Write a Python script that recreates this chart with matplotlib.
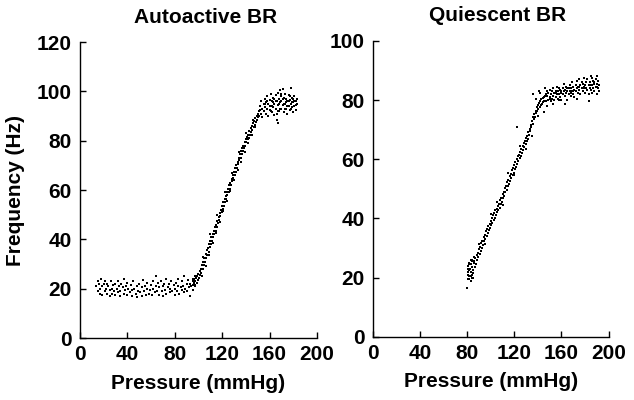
import matplotlib
matplotlib.use("Agg")
from matplotlib import pyplot as plt

plt.rcParams['font.family'] = ['Liberation Sans', 'DejaVu Sans']
plt.rcParams['font.weight'] = 'bold'

# Autoactive BR, points (pressure mmHg, frequency Hz)
auto_flat = [(14, 21), (15, 23), (15, 19), (16, 22), (17, 20), (17, 18), (18, 24), (19, 21),
             (19, 17.5), (20, 22), (21, 19), (21, 23), (22, 20), (23, 18), (23, 22), (24, 21),
             (25, 17), (25, 19.5), (26, 23), (27, 20), (27, 18), (28, 21.5), (29, 19), (30, 22),
             (30, 17.5), (31, 20), (32, 18.5), (32, 23), (33, 21), (34, 17), (34, 19), (35, 22),
             (36, 20.5), (37, 18), (37, 24), (38, 19.5), (39, 21), (40, 17.5), (40, 22.5), (41, 20),
             (42, 18.5), (43, 21.5), (44, 17), (44, 19.5), (45, 23), (46, 20), (47, 18), (48, 21),
             (48, 16.5), (49, 19), (50, 22), (51, 18.5), (52, 20.5), (52, 17), (53, 23.5), (54, 19),
             (55, 21), (56, 17.5), (57, 20), (57, 22.5), (58, 18), (59, 19.5), (60, 21.5), (61, 17.5),
             (62, 20), (62, 23), (63, 18.5), (64, 25), (64, 21), (65, 19), (66, 22.5), (67, 17.5),
             (67, 20.5), (68, 23), (69, 19), (70, 21), (70, 17), (71, 22), (72, 19.5), (73, 18),
             (73, 24), (74, 20.5), (75, 22), (76, 18.5), (76, 20), (77, 23), (78, 19), (79, 21.5),
             (80, 17.5), (80, 20), (81, 22.5), (82, 19), (83, 21), (83, 24), (84, 18), (85, 20.5),
             (86, 23), (86, 19.5), (87, 21), (88, 25), (88, 18.5), (89, 20), (90, 22), (90, 19),
             (91, 23.5), (92, 20.5), (93, 17), (93, 22), (94, 21), (95, 24), (95, 19.5), (96, 22.5),
             (97, 21), (97, 25)]
auto_rise = [(95, 21.5), (95.5, 23), (96, 22), (96.5, 24), (97, 23), (97.5, 21.5), (98, 24.5),
             (98.5, 22.5), (99, 25), (99.5, 23.5), (100, 26), (100.5, 24.5), (101, 27), (101.5, 25.5),
             (102, 28), (102.5, 26.5), (103, 29.5), (103.5, 28), (104, 31), (104.5, 29.5), (105, 32.5),
             (105.5, 31), (106, 34), (106.5, 32.5), (107, 35.5), (107.5, 33.5), (108, 36.5), (108.5, 35),
             (109, 38), (109.5, 37), (110, 39.5), (110.5, 38), (111, 41), (111.5, 39.5), (112, 42),
             (112.5, 41), (113, 43.5), (113.5, 42), (114, 45), (114.5, 43.5), (115, 46), (115.5, 45),
             (116, 47.5), (116.5, 46.5), (117, 49), (117.5, 48), (118, 50.5), (118.5, 49.5), (119, 52),
             (119.5, 51), (120, 53.5), (120.5, 52.5), (121, 55), (121.5, 53.5), (122, 56.5), (122.5, 55),
             (123, 57.5), (123.5, 56.5), (124, 59), (124.5, 58), (125, 60.5), (125.5, 59), (126, 62),
             (126.5, 60.5), (127, 63), (127.5, 62), (128, 64.5), (128.5, 63.5), (129, 66), (129.5, 65),
             (130, 67.5), (130.5, 66), (131, 69), (131.5, 67.5), (132, 70), (132.5, 69), (133, 71.5),
             (133.5, 70.5), (134, 73), (134.5, 72), (135, 74.5), (135.5, 73), (136, 76), (136.5, 74.5),
             (137, 77), (137.5, 76), (138, 78), (138.5, 77), (139, 79.5), (139.5, 78), (140, 80.5),
             (140.5, 79.5), (141, 81.5), (141.5, 80.5), (142, 82.5), (142.5, 81), (143, 84), (143.5, 82.5),
             (144, 85), (144.5, 83.5), (145, 86), (145.5, 84.5), (146, 87), (146.5, 85.5), (147, 88),
             (147.5, 86.5), (148, 89), (148.5, 87.5), (149, 90), (149.5, 88.5), (150, 91), (150.5, 89.5),
             (151, 92), (151.5, 90), (152, 92.5),
             (103, 25), (106, 29), (109, 33.5), (112, 38.5), (115, 42.5), (118, 47), (121, 51.5),
             (124, 55.5), (127, 59.5), (130, 64), (133, 68), (136, 71.5), (139, 75.5), (142, 79),
             (145, 82.5), (148, 85.5), (104, 33), (110, 42), (116, 50), (122, 59), (128, 67),
             (134, 75.5), (140, 83), (146, 88.5)]
auto_top = [(152, 94), (153, 91), (153, 96), (154, 93), (154, 89.5), (155, 95), (155, 92), (156, 97),
            (156, 93.5), (157, 91), (157, 95.5), (158, 98), (158, 93), (159, 90), (159, 95), (160, 96.5),
            (160, 92.5), (161, 94), (161, 99), (162, 91.5), (162, 96), (163, 93.5), (163, 97.5), (164, 95),
            (164, 90.5), (165, 98.5), (165, 93), (166, 96), (166, 91), (167, 99.5), (167, 94.5), (168, 97),
            (168, 92), (169, 100.5), (169, 95.5), (170, 98), (170, 93), (170, 96), (171, 101), (171, 94.5),
            (172, 97.5), (172, 91.5), (173, 99), (173, 95), (174, 93), (174, 97), (175, 96), (175, 91),
            (176, 98.5), (176, 94), (177, 96.5), (177, 92.5), (178, 101.5), (178, 95), (179, 93.5),
            (179, 97.5), (180, 95.5), (180, 91.5), (181, 98), (181, 94), (182, 96), (182, 92.5), (183, 95),
            (183, 97), (167, 87), (166, 88.5), (156, 95), (158, 96), (160, 94), (162, 94), (164, 97),
            (168, 95), (170, 99), (172, 95), (174, 95.5), (176, 96), (178, 93), (180, 97), (182, 94.5),
            (161, 92), (163, 95.5), (165, 96), (167, 92), (169, 93), (171, 97), (173, 93), (175, 94),
            (177, 98), (179, 95.5), (181, 96)]

# Quiescent BR
quie_low = [(80, 16.5), (80.5, 21), (81, 24), (81, 19.5), (81.5, 22.5), (82, 25), (82, 20.5),
            (82.5, 23), (83, 19), (83, 22), (83.5, 24.5), (84, 21), (84, 26), (84.5, 23.5), (85, 20),
            (85, 22.5), (85.5, 25), (84, 25.5), (85, 21.5), (83, 20.5), (81, 23), (82, 24.5),
            (80.5, 22), (81.5, 19.5), (84.5, 19.8), (83.5, 26), (85.5, 27)]
quie_rise = [(86, 25.5), (86.5, 23.5), (87, 26.5), (87.5, 24.5), (88, 27.8), (88.5, 25.8), (89, 28.2),
             (89.5, 27), (90, 29.8), (90.5, 28), (91, 30.5), (91.5, 29), (92, 31.8), (92.5, 30),
             (93, 32.5), (93.5, 31), (94, 33.8), (94.5, 32.2), (95, 34.5), (95.5, 33), (96, 35.8),
             (96.5, 34.2), (97, 36.5), (97.5, 35), (98, 37.5), (98.5, 36), (99, 38.2), (99.5, 36.8),
             (100, 39.2), (100.5, 37.8), (101, 40), (101.5, 38.5), (102, 41), (102.5, 39.5), (103, 41.8),
             (103.5, 40.2), (104, 42.8), (104.5, 41.2), (105, 43.2), (105.5, 42), (106, 44.2),
             (106.5, 42.8), (107, 45), (107.5, 43.5), (108, 46.2), (108.5, 44.8), (109, 47),
             (109.5, 45.5), (110, 48.2), (110.5, 46.8), (111, 49), (111.5, 47.5), (112, 50.2),
             (112.5, 48.8), (113, 51), (113.5, 49.5), (114, 52.2), (114.5, 50.8), (115, 53),
             (115.5, 51.5), (116, 54.2), (116.5, 52.8), (117, 55), (117.5, 53.5), (118, 56.2),
             (118.5, 54.8), (119, 57), (119.5, 55.5), (120, 58.2), (120.5, 56.8), (121, 59),
             (121.5, 57.5), (122, 60), (122.5, 58.5), (123, 61), (123.5, 59.5), (124, 61.5),
             (124.5, 60.5), (125, 62.5), (125.5, 61), (126, 63.5), (126.5, 62.2), (127, 64.5),
             (127.5, 63), (128, 65.5), (128.5, 64), (129, 66.2), (129.5, 65), (130, 67.2), (130.5, 66),
             (131, 68), (131.5, 66.8), (132, 69.2), (132.5, 68.2), (133, 70.2), (133.5, 69.5),
             (134, 71.5), (134.5, 70.8), (135, 73), (135.5, 72), (136, 74.2), (136.5, 73.5),
             (137, 75.2), (137.5, 74.2), (138, 76.2), (138.5, 75.5), (139, 77.5), (139.5, 76.2),
             (140, 78.2), (140.5, 77), (141, 79), (141.5, 77.8), (142, 79.8), (142.5, 78.2), (143, 80.2),
             (143.5, 78.8), (144, 80.8), (144.5, 79.2), (145, 81), (145.5, 79.5), (146, 81.2),
             (146.5, 79.8),
             (90, 31.5), (95, 31.5), (100, 41.5), (105, 45.5), (110, 44.5), (115, 55.5), (120, 54.5),
             (125, 64.5), (130, 63.5), (122, 71), (135, 68), (140, 74.5), (142, 82.5), (141, 83),
             (136, 82), (138, 80.5)]
quie_top = [(147, 82), (147, 79.5), (148, 81.5), (148, 83), (149, 80), (149, 82.5), (150, 81),
            (150, 83.5), (151, 79.5), (151, 82), (152, 83), (152, 80.5), (153, 81.5), (153, 84),
            (154, 82.5), (154, 80), (155, 83), (155, 81), (156, 84.5), (156, 82), (157, 80.5), (157, 83),
            (158, 82), (158, 84), (159, 81), (159, 83.5), (160, 82.5), (160, 80), (161, 84), (161, 82),
            (162, 83), (162, 85.5), (163, 81.5), (163, 83.5), (164, 82.5), (164, 84.5), (165, 80),
            (165, 83), (166, 84), (166, 82), (167, 85), (167, 83), (168, 81.5), (168, 84), (169, 83),
            (169, 86), (170, 82), (170, 84.5), (171, 83.5), (171, 81), (172, 85), (172, 83), (173, 84),
            (173, 86.5), (174, 82.5), (174, 84.5), (175, 83.5), (175, 87), (176, 85), (176, 82),
            (177, 84), (177, 86), (178, 83), (178, 85.5), (179, 87.5), (179, 84.5), (180, 82.5),
            (180, 85), (181, 86), (181, 84), (182, 83.5), (182, 87), (183, 85), (183, 82), (184, 86),
            (184, 84), (185, 83.5), (185, 88), (186, 85), (186, 82.5), (187, 86.5), (187, 84),
            (188, 85.5), (188, 83), (189, 87), (189, 84.5), (190, 85.5), (190, 82), (191, 86.5),
            (191, 84), (192, 85), (192, 83), (150, 80.5), (155, 82.5), (160, 83), (165, 84), (170, 83),
            (175, 84.5), (180, 84), (185, 85), (190, 84.5), (158, 80), (168, 82.5), (178, 84), (188, 86),
            (163, 78.5), (173, 80.5), (183, 79.5), (153, 78.5), (190, 88), (186, 87.5), (146, 84),
            (145, 76), (148, 78)]

auto_pts = auto_flat + auto_rise + auto_top
quie_pts = quie_low + quie_rise + quie_top

xticks = [0, 40, 80, 120, 160, 200]

fig = plt.figure(figsize=(6.34, 4.0), dpi=100)
ax1 = fig.add_axes([0.126, 0.155, 0.374, 0.74])
ax2 = fig.add_axes([0.588, 0.158, 0.372, 0.74])

panels = [(ax1, auto_pts, 'Autoactive BR', 120, [0, 20, 40, 60, 80, 100, 120]),
          (ax2, quie_pts, 'Quiescent BR', 100, [0, 20, 40, 60, 80, 100])]

for ax, pts, title, ytop, yticks in panels:
    px = [p[0] for p in pts]
    fq = [p[1] for p in pts]
    ax.scatter(px, fq, s=2.8, marker='s', c='black', linewidths=0)
    ax.set_xlim(0, 200)
    ax.set_ylim(0, ytop)
    ax.set_xticks(xticks)
    ax.set_yticks(yticks)
    for s in ['top', 'right']:
        ax.spines[s].set_visible(False)
    for s in ['left', 'bottom']:
        ax.spines[s].set_linewidth(1.0)
    ax.tick_params(direction='in', length=4, width=1.0, labelsize=15, colors='black')
    ax.tick_params(axis='y', pad=6)
    ax.tick_params(axis='x', pad=5)
    ax.set_title(title, fontsize=15, fontweight='bold', pad=14, x=0.53)
    ax.set_xlabel('Pressure (mmHg)', fontsize=15, fontweight='bold', labelpad=7)

ax1.set_ylabel('Frequency (Hz)', fontsize=15, fontweight='bold')
ax1.yaxis.set_label_coords(-0.232, 0.5)

plt.savefig('out.png', dpi=100)
